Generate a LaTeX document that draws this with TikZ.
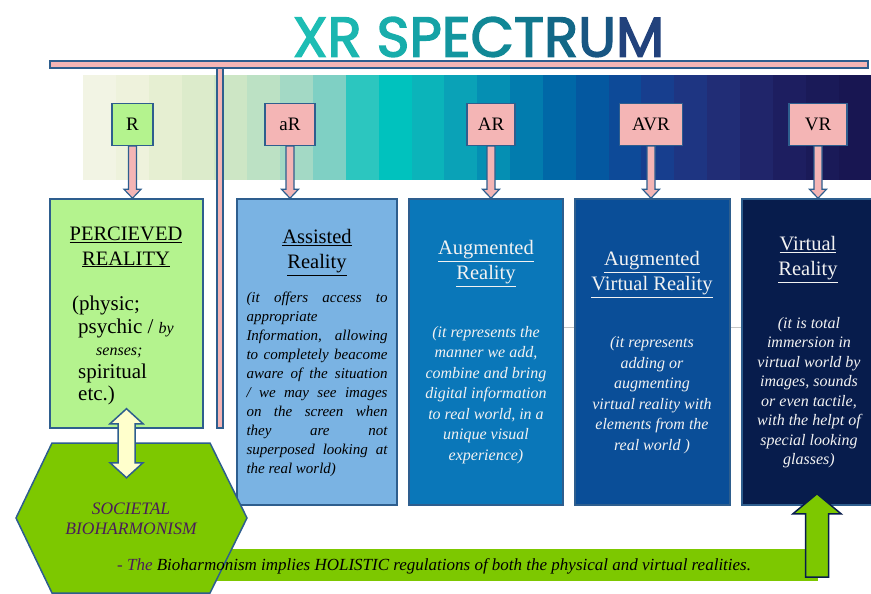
\documentclass[tikz,border=0pt]{standalone}
\usepackage{fontspec}
\setmainfont{Liberation Serif}
\newfontfamily\titlefont[FakeBold=2.6]{Poppins}
\usetikzlibrary{calc}

\definecolor{barpink}{HTML}{F4B5B5}
\definecolor{edgeblue}{HTML}{2E5E8E}
\definecolor{realgreen}{HTML}{B4F38E}
\definecolor{asblue}{HTML}{7AB3E3}
\definecolor{arblue}{HTML}{0A77B9}
\definecolor{avrblue}{HTML}{0A4E98}
\definecolor{vrblue}{HTML}{071C4C}
\definecolor{limegreen}{HTML}{7DC800}
\definecolor{paleyellow}{HTML}{FFFFCC}
\definecolor{hexpurple}{HTML}{4B1D5A}
\definecolor{lighttext}{HTML}{F2F2F2}

\tikzset{
    label box/.style={draw=edgeblue, line width=1.2pt, fill=barpink, minimum width=#1,
        minimum height=42pt, inner sep=0pt, font=\fontsize{19}{20}\selectfont},
    main box/.style={draw=edgeblue, line width=1.5pt, minimum width=#1,
        minimum height=306pt, inner sep=0pt},
    pink bar/.style={draw=edgeblue, line width=1.2pt, fill=barpink},
    heading/.style={align=center, inner sep=0pt, font=\fontsize{20.5}{25}\selectfont},
    body/.style={align=center, inner sep=0pt, font=\itshape\fontsize{16}{20.5}\selectfont},
}

% vertical block arrow, tip at the second point
\newcommand{\blockarrow}[6]{%
    \draw[#1] let \p1=(#2), \p2=(#3), \n1={ifthenelse(\y2<\y1,1,-1)} in
        ({\x1-#4},\y1) -- ({\x1-#4},{\y2+\n1*#6}) -- ({\x1-#5},{\y2+\n1*#6}) -- (\x1,\y2)
        -- ({\x1+#5},{\y2+\n1*#6}) -- ({\x1+#4},{\y2+\n1*#6}) -- ({\x1+#4},\y1) -- cycle;
}
% vertical arrow with a head at both ends
\newcommand{\doublearrow}[6]{%
    \draw[#1] let \p1=(#2), \p2=(#3) in
        (\x1,\y1) -- ({\x1+#5},{\y1-#6}) -- ({\x1+#4},{\y1-#6}) -- ({\x1+#4},{\y2+#6})
        -- ({\x1+#5},{\y2+#6}) -- (\x1,\y2) -- ({\x1-#5},{\y2+#6}) -- ({\x1-#4},{\y2+#6})
        -- ({\x1-#4},{\y1-#6}) -- ({\x1-#5},{\y1-#6}) -- cycle;
}
\newcommand{\jline}[1]{\makebox[141pt][s]{#1}}

\begin{document}
\begin{tikzpicture}[x=1pt, y=-1pt]

    \useasboundingbox (0,0) rectangle (871,594);

    % spectrum band
    \foreach \c [count=\i from 0] in {F2F4E4,EEF2DC,E6EFD2,DCEBCB,CDE6C5,BCE1C4,A3D9C5,7FD0C4,
        2CC6BF,00C2BE,0BB4BA,0AA2B7,058FB3,027CAE,0068A7,0458A0,0D4A98,173E8E,1E3582,212D76,
        20256A,1D1E60,1A1A58,181652} {
        \definecolor{stripe}{HTML}{\c}
        \fill[stripe] (83+\i*32.85,75) rectangle ++(33.5,105);
    }

    \node[inner sep=0pt, font=\titlefont\fontsize{56}{56}\selectfont] (title) at (478.5,37)
        {\textcolor[HTML]{1DBDB4}{X}\textcolor[HTML]{1BB6B0}{R} \textcolor[HTML]{18ADAB}{S}%
         \textcolor[HTML]{15A2A6}{P}\textcolor[HTML]{13969F}{E}\textcolor[HTML]{118896}{C}%
         \textcolor[HTML]{10788E}{T}\textcolor[HTML]{126887}{R}\textcolor[HTML]{185683}{U}%
         \textcolor[HTML]{22427C}{M}};

    \draw[pink bar] (50,61) rectangle (868,68);
    \draw[pink bar] (217,68) rectangle (223,428);

    \draw[gray!45, line width=0.8pt] (486,327) -- (812,327);

    \node[label box=41, fill=realgreen] (lR) at (132.5,124.5) {R};
    \node[label box=50] (laR) at (290,124.5) {aR};
    \node[label box=48] (lAR) at (491,124.5) {AR};
    \node[label box=63] (lAVR) at (651,124.5) {AVR};
    \node[label box=58] (lVR) at (818,124.5) {VR};

    \node[main box=153, minimum height=229pt, fill=realgreen] (pr) at (126.5,313.5) {};
    \node[main box=160, fill=asblue] (as) at (317,352) {};
    \node[main box=154, fill=arblue] (ar) at (486,352) {};
    \node[main box=155, fill=avrblue] (avr) at (652.5,352) {};
    \node[main box=140, fill=vrblue] (vr) at (812,352) {};

    \blockarrow{pink bar}{lR.south}{lR.south |- pr.north}{4pt}{8.5pt}{9pt}
    \blockarrow{pink bar}{laR.south}{laR.south |- as.north}{4pt}{8.5pt}{9pt}
    \blockarrow{pink bar}{lAR.south}{lAR.south |- ar.north}{4pt}{8.5pt}{9pt}
    \blockarrow{pink bar}{lAVR.south}{lAVR.south |- avr.north}{4pt}{8.5pt}{9pt}
    \blockarrow{pink bar}{lVR.south}{lVR.south |- vr.north}{4pt}{8.5pt}{9pt}

    % box texts
    \node[heading] (prh) at (126,247) {\underline{PERCIEVED}\\\underline{REALITY}};
    \node[align=left, inner sep=0pt, anchor=west, font=\fontsize{21}{22.5}\selectfont] (prb) at (72,350.5)
        {(physic;\\\hspace*{6pt}psychic / {\itshape\fontsize{16}{22.5}\selectfont by}\\
         \hspace*{24pt}{\itshape\fontsize{16}{22.5}\selectfont senses;}\\
         \hspace*{6pt}spiritual\\\hspace*{6pt}etc.)};

    \node[heading] (ash) at (317,252.5) {\underline{Assisted}\\\underline{Reality}};
    \node[body, align=left, font=\itshape\fontsize{15}{19}\selectfont] (asb) at (317,384)
        {\jline{(it offers access to}\\appropriate\\\jline{Information, allowing}\\
         \jline{to completely beacome}\\\jline{aware of the situation}\\
         \jline{/ we may see images}\\\jline{on the screen when}\\\jline{they are not}\\
         \jline{superposed looking at}\\the real world)};

    \node[heading, text=lighttext] (arh) at (486,263.5) {\underline{Augmented}\\\underline{Reality}};
    \node[body, text=lighttext] (arb) at (486,395)
        {(it represents the\\manner we add,\\combine and bring\\digital information\\
         to real world, in a\\unique visual\\experience)};

    \node[heading, text=lighttext] (avrh) at (652,274.5) {\underline{Augmented}\\\underline{Virtual Reality}};
    \node[body, text=lighttext] (avrb) at (652,395)
        {(it represents\\adding or\\augmenting\\virtual reality with\\elements from the\\real world )};

    \node[heading, text=lighttext] (vrh) at (808,259.5) {\underline{Virtual}\\\underline{Reality}};
    \node[body, text=lighttext, font=\itshape\fontsize{16}{19.5}\selectfont] (vrb) at (809,392.5)
        {(it is total\\immersion in\\virtual world by\\images, sounds\\or even tactile,\\
         with the helpt of\\special looking\\glasses)};

    % bioharmonism
    \fill[limegreen] (210,549) rectangle (818,581);
    \draw[fill=limegreen, draw=edgeblue, line width=1.5pt]
        (52,443) -- (210,443) -- (247,518) -- (210,593) -- (52,593) -- (16,518) -- cycle;
    \node[inner sep=0pt, align=center, text=hexpurple, font=\itshape\fontsize{17.5}{20}\selectfont]
        (hex) at (131,519) {SOCIETAL\\BIOHARMONISM};

    \coordinate (dtop) at ($(pr.south)+(0,-20)$);
    \coordinate (dbot) at ($(pr.south)+(0,49)$);
    \doublearrow{fill=paleyellow, draw=edgeblue, line width=1.5pt}{dtop}{dbot}{8.5pt}{16.5pt}{15pt}

    \coordinate (gbase) at (817,577);
    \coordinate (gtip) at ($(gbase |- vr.south)+(0,-12)$);
    \blockarrow{fill=limegreen, draw=vrblue, line width=1.5pt}{gbase}{gtip}{11.5pt}{24pt}{20pt}

    \node[anchor=west, inner sep=0pt, font=\itshape\fontsize{17}{18}\selectfont] (note) at (117,566)
        {\textcolor{hexpurple}{- The} Bioharmonism implies HOLISTIC regulations of both the physical and virtual realities.};

\end{tikzpicture}
\end{document}
